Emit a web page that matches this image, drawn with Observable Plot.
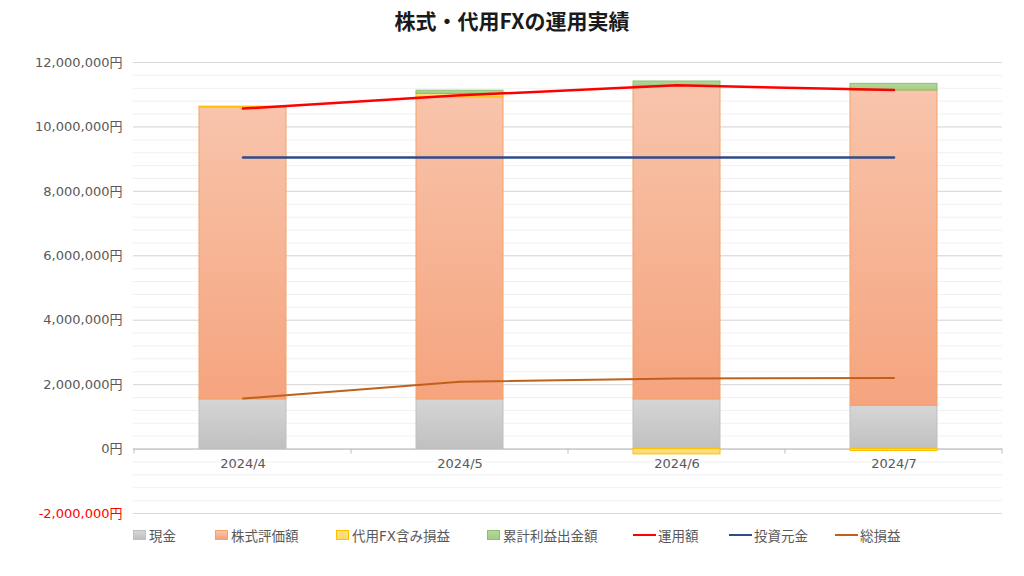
<!DOCTYPE html>
<html><head><meta charset="utf-8">
<script src="https://cdn.jsdelivr.net/npm/d3@7"></script>
<script src="https://cdn.jsdelivr.net/npm/@observablehq/plot@0.6"></script>
<style>
body{margin:0;background:#fff;font-family:"DejaVu Sans","Noto Sans CJK JP",sans-serif;}
#wrap{position:relative;width:1024px;height:576px;overflow:hidden;background:#fff;}
#title{position:absolute;top:5px;left:0;width:1024px;text-align:center;font-size:21px;font-weight:bold;color:#1a1a1a;font-family:"Noto Sans CJK JP",sans-serif;}
#chart{position:absolute;top:44px;left:0;}
#legend{position:absolute;top:526px;left:0;width:1024px;height:18px;font-size:13.5px;color:#595959;font-family:"DejaVu Sans","Noto Sans CJK JP",sans-serif;}
.li{position:absolute;top:0;display:flex;align-items:center;height:18px;white-space:nowrap;}
.sw{width:13px;height:10px;margin-right:3px;box-sizing:border-box;border:1px solid;}
.ln{width:23px;height:0;border-top:2.5px solid;margin-right:2px;}
</style></head>
<body>
<div id="wrap">
  <div id="title">株式・代用FXの運用実績</div>
  <div id="chart"></div>
  <div id="legend"></div>
</div>
<script>
// ---- data ----
const months = ["2024/4", "2024/5", "2024/6", "2024/7"];
const barSeries = ["現金", "株式評価額", "代用FX含み損益", "累計利益出金額"];
const cash      = [1540000, 1540000, 1540000, 1340000];
const stock     = [9070000, 9380000, 9715000, 9790000];
const fxPnl     = [20000, 105000, -165000, -60000];
const withdrawn = [0, 100000, 155000, 207000];
const lineSeries = ["運用額", "投資元金", "総損益"];
const unyo    = [10570000, 10980000, 11290000, 11150000];
const gankin  = [9050000, 9050000, 9050000, 9050000];
const sonneki = [1570000, 2090000, 2190000, 2210000];
const yTicks = [-2000000, 0, 2000000, 4000000, 6000000, 8000000, 10000000, 12000000];
const yMinorTicks = d3.range(-2000000, 12000001, 400000);

// ---- styles ----
const barGrad = {
  "現金": ["#d6d6d6", "#c0c0c0"],
  "株式評価額": ["#f8c4ab", "#f5a47e"],
  "代用FX含み損益": ["#ffe08a", "#ffd966"],
  "累計利益出金額": ["#b4d89c", "#a2cc86"]
};
const barStroke = {
  "現金": "#bfbfbf",
  "株式評価額": "#f4a266",
  "代用FX含み損益": "#ffc000",
  "累計利益出金額": "#8fbf6e"
};
const lineColor = {"運用額": "#ff0000", "投資元金": "#2f4b8c", "総損益": "#c0601c"};
const lineWidth = {"運用額": 2.5, "投資元金": 2.5, "総損益": 2};

const barValues = [cash, stock, fxPnl, withdrawn];
const barData = barSeries.flatMap((s, si) =>
  months.map((m, i) => ({month: m, series: s, si, value: barValues[si][i]}))
).filter(d => d.value !== 0);

const lineValues = [unyo, gankin, sonneki];
const lineData = lineSeries.map((s, li) => months.map((m, i) => ({month: m, series: s, value: lineValues[li][i]})));

const fmt = d3.formatLocale({decimal: ".", thousands: ",", grouping: [3], currency: ["", ""], minus: "-"}).format(",");
const FONT = '"DejaVu Sans","Noto Sans CJK JP",sans-serif';

const chart = Plot.plot({
  width: 1024, height: 480,
  marginLeft: 133, marginRight: 22, marginTop: 18, marginBottom: 11,
  style: {fontFamily: FONT, fontSize: "13px", color: "#595959", background: "transparent"},
  x: {domain: months, padding: 0, axis: null},
  y: {domain: [-2000000, 12000000], axis: null},
  color: {type: "identity"},
  marks: [
    Plot.gridY(yMinorTicks, {stroke: "#f0f0f0", strokeOpacity: 1}),
    Plot.gridY(yTicks, {stroke: "#d9d9d9", strokeOpacity: 1}),
    Plot.ruleY([0], {stroke: "#bfbfbf", strokeWidth: 1}),
    Plot.barY(barData, Plot.stackY({
      x: "month", y: "value", z: "series",
      fill: d => `url(#grad${d.si})`,
      stroke: d => barStroke[d.series],
      strokeWidth: 1,
      insetLeft: 65, insetRight: 65
    })),
    ...lineData.map(ld => Plot.line(ld, {
      x: "month", y: "value",
      stroke: lineColor[ld[0].series], strokeWidth: lineWidth[ld[0].series]
    })),
    Plot.axisY(yTicks, {
      tickSize: 0, tickPadding: 11, label: null,
      tickFormat: d => fmt(d) + "円",
      fill: d => d < 0 ? "#ff0000" : "#595959",
      fontSize: 13
    }),
    Plot.text(months, {x: d => d, y: () => 0, dy: 15, fill: "#595959", fontSize: 13})
  ]
});

// gradients
const svg = d3.select(chart);
const defs = svg.insert("defs", ":first-child");
barSeries.forEach((s, si) => {
  const g = defs.append("linearGradient").attr("id", `grad${si}`)
    .attr("x1", 0).attr("y1", 0).attr("x2", 0).attr("y2", 1);
  g.append("stop").attr("offset", "0%").attr("stop-color", barGrad[s][0]);
  g.append("stop").attr("offset", "100%").attr("stop-color", barGrad[s][1]);
});

// category boundary tick marks on the zero axis
const xs = chart.scale("x"), ys = chart.scale("y");
const y0 = ys.apply(0);
const bounds = months.map(m => xs.apply(m)).concat([xs.apply(months[months.length - 1]) + xs.bandwidth]);
svg.append("g").selectAll("line").data(bounds).join("line")
  .attr("x1", d => d).attr("x2", d => d)
  .attr("y1", y0).attr("y2", y0 + 5)
  .attr("stroke", "#bfbfbf");

document.getElementById("chart").appendChild(chart);

// legend
const legendItems = [
  {name: "現金", kind: "bar", left: 133},
  {name: "株式評価額", kind: "bar", left: 215},
  {name: "代用FX含み損益", kind: "bar", left: 336},
  {name: "累計利益出金額", kind: "bar", left: 487},
  {name: "運用額", kind: "line", left: 633},
  {name: "投資元金", kind: "line", left: 729},
  {name: "総損益", kind: "line", left: 835}
];
const legend = d3.select("#legend");
legendItems.forEach(it => {
  const item = legend.append("div").attr("class", "li").style("left", it.left + "px");
  if (it.kind === "bar") {
    item.append("div").attr("class", "sw")
      .style("background", `linear-gradient(${barGrad[it.name][0]}, ${barGrad[it.name][1]})`)
      .style("border-color", barStroke[it.name]);
  } else {
    item.append("div").attr("class", "ln")
      .style("border-top-color", lineColor[it.name])
      .style("border-top-width", lineWidth[it.name] + "px");
  }
  item.append("span").text(it.name);
});
</script>
</body></html>
